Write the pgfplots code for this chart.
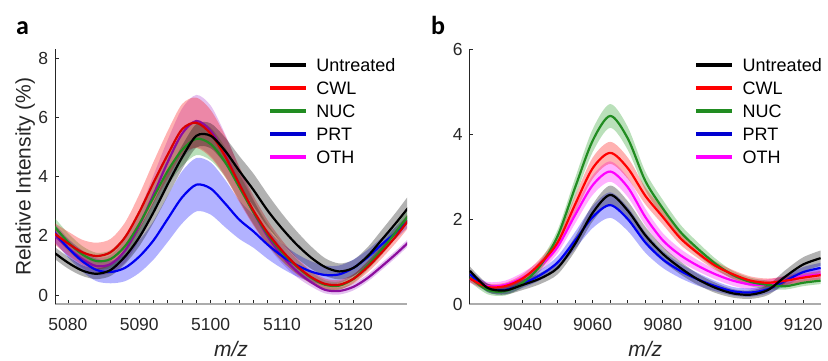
\documentclass[border=0pt]{standalone}
\usepackage{fontspec}
\setmainfont{Liberation Sans}
\newfontfamily\labfont{Carlito}
\usepackage{pgfplots}
\pgfplotsset{compat=1.18}
\usepackage{pgfplotstable}
\usepgfplotslibrary{fillbetween}

\definecolor{tickgray}{rgb}{0.15,0.15,0.15}
\definecolor{nucline}{rgb}{0.13,0.55,0.13}
\definecolor{nucfill}{rgb}{0.1,0.6,0.1}
\definecolor{othA}{rgb}{0.55,0.05,0.62}
\definecolor{othAfill}{rgb}{0.65,0.2,0.8}
\definecolor{prtline}{rgb}{0,0,0.95}
\definecolor{mag}{rgb}{1,0,1}
\definecolor{rd}{rgb}{1,0,0}
\definecolor{bl}{rgb}{0,0,1}
\definecolor{prtleg}{rgb}{0,0,0.82}

% ---------------- panel a ----------------
\pgfplotstableread{
x m lo hi
5078 1.45 1.25 1.65
5080 1.10 0.90 1.30
5082 0.83 0.65 1.01
5084 0.72 0.54 0.90
5086 0.85 0.65 1.05
5088 1.30 1.05 1.55
5090 1.95 1.65 2.25
5092 2.80 2.45 3.15
5094 3.75 3.35 4.15
5096 4.65 4.25 5.05
5098 5.38 4.98 5.78
5100 5.38 4.96 5.80
5102 4.88 4.43 5.33
5104 4.20 3.70 4.70
5106 3.55 3.00 4.10
5108 2.85 2.30 3.40
5110 2.25 1.75 2.75
5112 1.72 1.27 2.17
5114 1.28 0.90 1.66
5116 0.95 0.65 1.25
5118 0.80 0.53 1.07
5120 0.92 0.65 1.19
5122 1.32 1.02 1.62
5124 1.88 1.55 2.21
5126 2.45 2.09 2.81
5128 3.05 2.65 3.45
}\aUNT
\pgfplotstableread{
x m lo hi
5078 2.10 1.75 2.45
5080 1.75 1.35 2.15
5082 1.45 1.03 1.87
5084 1.32 0.87 1.77
5086 1.45 1.00 1.90
5088 1.95 1.45 2.45
5090 2.80 2.20 3.40
5092 3.80 3.10 4.50
5094 4.75 3.95 5.55
5096 5.60 4.75 6.45
5098 5.82 4.97 6.67
5100 5.45 4.65 6.25
5102 4.70 4.00 5.40
5104 3.75 3.15 4.35
5106 2.85 2.35 3.35
5108 2.10 1.68 2.52
5110 1.50 1.15 1.85
5112 1.00 0.72 1.28
5114 0.62 0.40 0.84
5116 0.38 0.20 0.56
5118 0.35 0.19 0.51
5120 0.55 0.39 0.71
5122 0.95 0.77 1.13
5124 1.45 1.25 1.65
5126 2.00 1.78 2.22
5128 2.62 2.37 2.87
}\aCWL
\pgfplotstableread{
x m lo hi
5078 2.35 2.05 2.65
5080 1.80 1.50 2.10
5082 1.38 1.10 1.66
5084 1.15 0.87 1.43
5086 1.22 0.92 1.52
5088 1.65 1.30 2.00
5090 2.40 2.00 2.80
5092 3.30 2.85 3.75
5094 4.20 3.70 4.70
5096 4.90 4.35 5.45
5098 5.28 4.73 5.83
5100 5.10 4.55 5.65
5102 4.50 4.00 5.00
5104 3.65 3.20 4.10
5106 2.80 2.40 3.20
5108 2.05 1.70 2.40
5110 1.45 1.15 1.75
5112 0.98 0.73 1.23
5114 0.60 0.40 0.80
5116 0.35 0.20 0.50
5118 0.32 0.18 0.46
5120 0.55 0.41 0.69
5122 1.00 0.85 1.15
5124 1.55 1.37 1.73
5126 2.15 1.95 2.35
5128 2.78 2.56 3.00
}\aNUC
\pgfplotstableread{
x m lo hi
5078 2.15 1.85 2.45
5080 1.60 1.28 1.92
5082 1.15 0.80 1.50
5084 0.85 0.47 1.23
5086 0.78 0.40 1.16
5088 0.92 0.47 1.37
5090 1.30 0.75 1.85
5092 1.85 1.20 2.50
5094 2.58 1.80 3.36
5096 3.30 2.42 4.18
5098 3.73 2.83 4.63
5100 3.60 2.72 4.48
5102 3.10 2.30 3.90
5104 2.55 1.90 3.20
5106 2.15 1.60 2.70
5108 1.70 1.22 2.18
5110 1.32 0.90 1.74
5112 1.02 0.64 1.40
5114 0.80 0.45 1.15
5116 0.68 0.36 1.00
5118 0.70 0.40 1.00
5120 0.92 0.64 1.20
5122 1.28 1.03 1.53
5124 1.72 1.50 1.94
5126 2.12 1.92 2.32
5128 2.58 2.38 2.78
}\aPRT
\pgfplotstableread{
x m lo hi
5078 2.05 1.80 2.30
5080 1.60 1.32 1.88
5082 1.22 0.92 1.52
5084 0.98 0.68 1.28
5086 1.05 0.75 1.35
5088 1.50 1.10 1.90
5090 2.35 1.85 2.85
5092 3.40 2.75 4.05
5094 4.50 3.75 5.25
5096 5.45 4.60 6.30
5098 5.88 5.00 6.76
5100 5.55 4.70 6.40
5102 4.75 4.05 5.45
5104 3.75 3.20 4.30
5106 2.80 2.38 3.22
5108 1.98 1.66 2.30
5110 1.32 1.07 1.57
5112 0.82 0.62 1.02
5114 0.45 0.30 0.60
5116 0.18 0.06 0.30
5118 0.14 0.02 0.26
5120 0.28 0.16 0.40
5122 0.58 0.46 0.70
5124 0.98 0.86 1.10
5126 1.40 1.28 1.52
5128 1.85 1.73 1.97
}\aOTH

% ---------------- panel b ----------------
\pgfplotstableread{
x m lo hi
9025 0.78 0.68 0.88
9030 0.38 0.28 0.48
9035 0.32 0.22 0.42
9040 0.45 0.33 0.57
9045 0.60 0.47 0.73
9050 0.85 0.70 1.00
9055 1.42 1.25 1.59
9060 2.15 1.95 2.35
9065 2.57 2.35 2.79
9070 2.20 1.98 2.42
9075 1.62 1.42 1.82
9080 1.18 1.01 1.35
9085 0.85 0.70 1.00
9090 0.58 0.45 0.71
9095 0.38 0.26 0.50
9100 0.25 0.15 0.35
9105 0.22 0.12 0.32
9110 0.33 0.21 0.45
9115 0.65 0.50 0.80
9120 0.93 0.76 1.10
9125 1.08 0.90 1.26
}\bUNT
\pgfplotstableread{
x m lo hi
9025 0.60 0.52 0.68
9030 0.40 0.32 0.48
9035 0.42 0.34 0.50
9040 0.60 0.50 0.70
9045 0.95 0.83 1.07
9050 1.45 1.30 1.60
9055 2.35 2.15 2.55
9060 3.20 2.95 3.45
9065 3.56 3.30 3.82
9070 3.20 2.95 3.45
9075 2.55 2.35 2.75
9080 2.05 1.87 2.23
9085 1.55 1.40 1.70
9090 1.20 1.08 1.32
9095 0.90 0.80 1.00
9100 0.70 0.60 0.80
9105 0.55 0.45 0.65
9110 0.50 0.40 0.60
9115 0.55 0.45 0.65
9120 0.62 0.52 0.72
9125 0.68 0.58 0.78
}\bCWL
\pgfplotstableread{
x m lo hi
9025 0.62 0.52 0.72
9030 0.33 0.23 0.43
9035 0.30 0.20 0.40
9040 0.50 0.40 0.60
9045 0.90 0.78 1.02
9050 1.60 1.45 1.75
9055 2.75 2.53 2.97
9060 3.85 3.58 4.12
9065 4.43 4.15 4.71
9070 3.90 3.63 4.17
9075 2.90 2.68 3.12
9080 2.25 2.05 2.45
9085 1.70 1.53 1.87
9090 1.30 1.15 1.45
9095 0.95 0.83 1.07
9100 0.68 0.58 0.78
9105 0.52 0.42 0.62
9110 0.45 0.35 0.55
9115 0.42 0.34 0.50
9120 0.50 0.42 0.58
9125 0.55 0.47 0.63
}\bNUC
\pgfplotstableread{
x m lo hi
9025 0.70 0.60 0.80
9030 0.38 0.28 0.48
9035 0.33 0.23 0.43
9040 0.48 0.38 0.58
9045 0.68 0.56 0.80
9050 0.98 0.83 1.13
9055 1.50 1.30 1.70
9060 2.05 1.79 2.31
9065 2.33 2.03 2.63
9070 2.00 1.72 2.28
9075 1.45 1.21 1.69
9080 1.05 0.85 1.25
9085 0.78 0.61 0.95
9090 0.58 0.43 0.73
9095 0.42 0.30 0.54
9100 0.30 0.20 0.40
9105 0.27 0.17 0.37
9110 0.35 0.25 0.45
9115 0.55 0.43 0.67
9120 0.75 0.63 0.87
9125 0.85 0.73 0.97
}\bPRT
\pgfplotstableread{
x m lo hi
9025 0.60 0.50 0.70
9030 0.42 0.32 0.52
9035 0.45 0.35 0.55
9040 0.62 0.50 0.74
9045 0.90 0.77 1.03
9050 1.35 1.20 1.50
9055 2.10 1.90 2.30
9060 2.80 2.57 3.03
9065 3.12 2.88 3.36
9070 2.75 2.52 2.98
9075 2.05 1.85 2.25
9080 1.50 1.33 1.67
9085 1.15 1.00 1.30
9090 0.90 0.77 1.03
9095 0.70 0.58 0.82
9100 0.55 0.43 0.67
9105 0.46 0.34 0.58
9110 0.46 0.34 0.58
9115 0.55 0.43 0.67
9120 0.65 0.53 0.77
9125 0.70 0.58 0.82
}\bOTH

\newcommand{\band}[4]{%
  \addplot[name path=#4hi, draw=none, smooth, forget plot] table[x=x,y=hi]{#1};
  \addplot[name path=#4lo, draw=none, smooth, forget plot] table[x=x,y=lo]{#1};
  \addplot[fill=#2, fill opacity=0.3, draw=none, forget plot] fill between[of=#4hi and #4lo];
  \addplot[color=#3, line width=2.2pt, smooth, forget plot] table[x=x,y=m]{#1};
}

\pgfplotsset{
  legend image code/.code={\draw[#1] (0pt,0pt) -- (36pt,0pt);},
  mystyle/.style={
    scale only axis, width=352pt, height=254.7pt,
    axis lines*=left,
    axis line style={-, tickgray, line width=0.8pt},
    x axis line style={-, draw=gray!65, line width=1.3pt},
    tick align=inside,
    major tick length=4pt, minor tick length=4pt,
    every tick/.style={tickgray, line width=0.7pt},
    tick label style={font=\fontsize{17.5}{17.5}\selectfont, text=tickgray},
    /pgf/number format/assume math mode=true,
    /pgf/number format/set thousands separator={},
    xticklabel style={anchor=base, yshift=-26.7pt},
    yticklabel style={anchor=east, inner sep=0pt, xshift=-6.6pt},
    label style={font=\fontsize{21}{21}\selectfont, text=tickgray},
    xlabel={\textit{m/z}},
    xlabel style={at={(axis description cs:0.5,-0.208)}, anchor=base},
    legend cell align=left,
    legend style={draw=none, fill=none, inner sep=0pt, outer sep=0pt,
      row sep=10pt, column sep=8pt, font=\fontsize{18}{18}\selectfont,
      nodes={inner sep=0pt, text height=13pt, text depth=0pt}},
  }
}

\begin{document}
\begin{tikzpicture}
\node[anchor=base west, inner sep=0pt, font=\labfont\bfseries\fontsize{26}{26}\selectfont] at (16pt,326pt) {a};
\node[anchor=base west, inner sep=0pt, font=\labfont\bfseries\fontsize{26}{26}\selectfont] at (431pt,326pt) {b};

\begin{axis}[mystyle, at={(55pt,56pt)}, anchor=south west,
  xmin=5078.2, xmax=5127.5, ymin=-0.3, ymax=8.3,
  xtick={5080,5090,5100,5110,5120}, ytick={0,2,4,6,8},
  minor x tick num=4,
  ylabel={Relative Intensity (\%)},
  ylabel style={at={(axis description cs:-0.069,0.5)}, anchor=base},
  legend style={at={(axis description cs:0.605,1)}, anchor=north west, yshift=-9pt}]
  \band{\aOTH}{othAfill}{othA}{ao}
  \band{\aPRT}{bl}{prtline}{ap}
  \band{\aNUC}{nucfill}{nucline}{an}
  \band{\aCWL}{rd}{rd!85!black}{ac}
  \band{\aUNT}{black}{black}{au}
  \addlegendimage{black, line width=4.5pt}\addlegendentry{Untreated}
  \addlegendimage{rd, line width=4.5pt}\addlegendentry{CWL}
  \addlegendimage{nucline, line width=4.5pt}\addlegendentry{NUC}
  \addlegendimage{prtleg, line width=4.5pt}\addlegendentry{PRT}
  \addlegendimage{mag, line width=4.5pt}\addlegendentry{OTH}
\end{axis}

\begin{axis}[mystyle, at={(469.3pt,56pt)}, anchor=south west,
  xmin=9024.8, xmax=9125.2, ymin=0, ymax=6,
  xtick={9040,9060,9080,9100,9120}, ytick={0,2,4,6},
  minor x tick num=3,
  legend style={at={(axis description cs:0.639,1)}, anchor=north west, yshift=-9pt}]
  \band{\bOTH}{mag}{mag}{bo}
  \band{\bPRT}{bl}{prtline}{bp}
  \band{\bNUC}{nucfill}{nucline}{bn}
  \band{\bCWL}{rd}{rd}{bc}
  \band{\bUNT}{black}{black}{bu}
  \addlegendimage{black, line width=4.5pt}\addlegendentry{Untreated}
  \addlegendimage{rd, line width=4.5pt}\addlegendentry{CWL}
  \addlegendimage{nucline, line width=4.5pt}\addlegendentry{NUC}
  \addlegendimage{prtleg, line width=4.5pt}\addlegendentry{PRT}
  \addlegendimage{mag, line width=4.5pt}\addlegendentry{OTH}
\end{axis}
\pgfresetboundingbox
\useasboundingbox (0pt,0pt) rectangle (828pt,360pt);
\end{tikzpicture}
\end{document}
